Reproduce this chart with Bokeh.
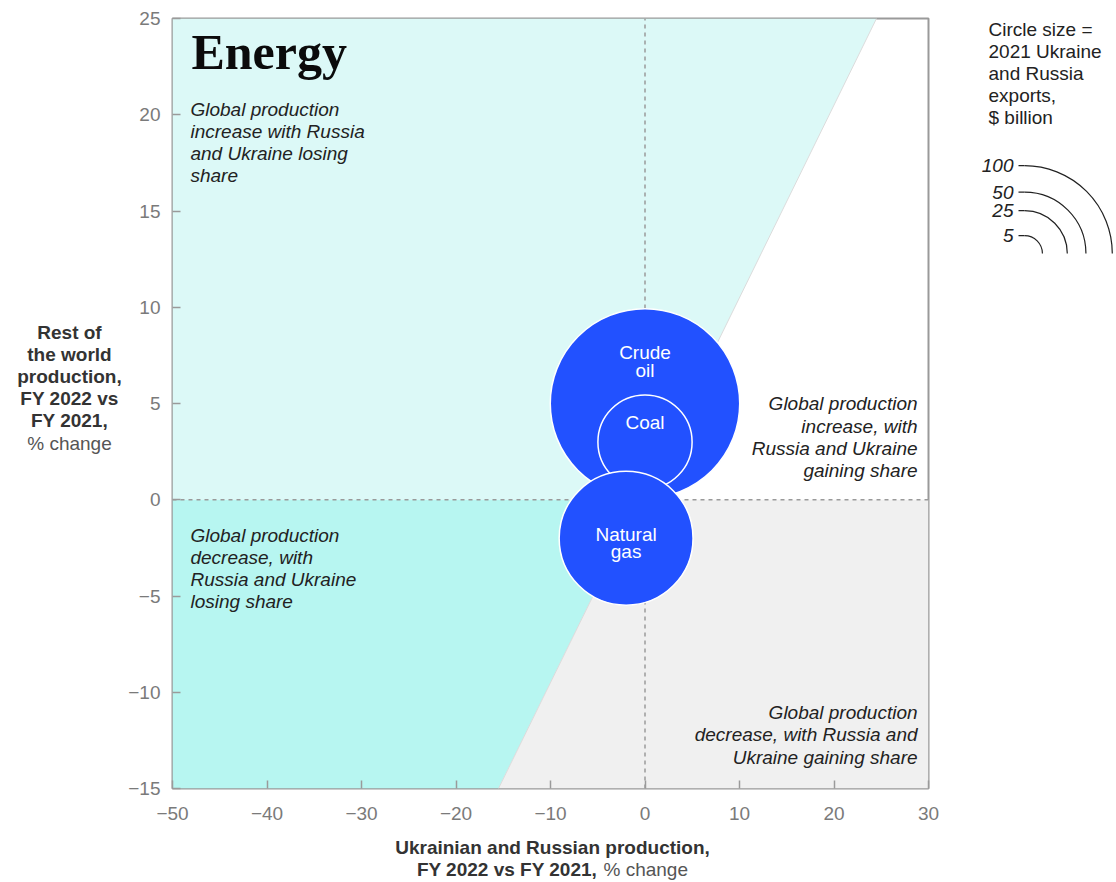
import math
from bokeh.plotting import figure
from bokeh.models import Range1d, FixedTicker, CustomJSTickFormatter, ColumnDataSource
from bokeh.layouts import row, column
from bokeh.embed import file_html
from bokeh.resources import INLINE
from bokeh.core.properties import value

# ---------------- data ----------------
commodities = ["Crude oil", "Coal", "Natural gas"]
circle_labels = ["Crude\noil", "Coal", "Natural\ngas"]
ukr_rus_change = [0, 0, -2]        # x: Ukrainian and Russian production change, %
row_change = [5, 3, -2]            # y: rest of the world production change, %
exports_bn = [116, 30, 59]         # 2021 Ukraine and Russia exports, $ billion

legend_values = [100, 50, 25, 5]
x_ticks = [-50, -40, -30, -20, -10, 0, 10, 20, 30]
y_ticks = [-15, -10, -5, 0, 5, 10, 15, 20, 25]
share_line_x = [-15.5, 24.5]       # boundary: Russia/Ukraine share unchanged
share_line_y = [-15, 25]

# ---------------- styles ----------------
FONT = "Liberation Sans"
BLUE = "#2251ff"
CYAN_LIGHT = "#dcf9f7"
CYAN = "#b7f6f1"
GRAY_BG = "#f0f0f0"
AX_GRAY = "#9a9a9a"
TXT = "#222222"
LH = 1.05

X_MIN, X_MAX = x_ticks[0], x_ticks[-1]
Y_MIN, Y_MAX = y_ticks[0], y_ticks[-1]

TOP_H = 835           # height of the upper row
BOT_H = 882 - TOP_H   # strip for the x axis title
FR_TOP, FR_BOT = 18, 788


def radius_px(v):
    return 9.0 * math.sqrt(v) - 2.2


def bare(fig):
    fig.outline_line_color = None
    fig.grid.visible = False
    fig.background_fill_color = "white"
    fig.border_fill_color = "white"
    return fig


# ---------------- main chart ----------------
p = figure(width=826, height=TOP_H, x_range=Range1d(X_MIN, X_MAX), y_range=Range1d(Y_MIN, Y_MAX),
           output_backend="svg", toolbar_location=None,
           min_border_left=48, min_border_right=22, min_border_top=FR_TOP,
           min_border_bottom=TOP_H - FR_BOT)
p.xgrid.visible = False
p.ygrid.visible = False
p.outline_line_color = AX_GRAY
p.outline_line_width = 2
p.background_fill_color = "white"
p.border_fill_color = "white"

fmt = CustomJSTickFormatter(code="return tick < 0 ? '\u2212' + Math.abs(tick) : String(tick);")
for ax in (p.xaxis[0], p.yaxis[0]):
    ax.axis_line_color = None
    ax.major_tick_in = 8
    ax.major_tick_out = 0
    ax.minor_tick_line_color = None
    ax.major_tick_line_color = AX_GRAY
    ax.major_tick_line_width = 1.5
    ax.major_label_text_font = FONT
    ax.major_label_text_font_size = "19px"
    ax.major_label_text_color = "#7a7a7a"
    ax.formatter = fmt
p.xaxis.ticker = FixedTicker(ticks=x_ticks)
p.yaxis.ticker = FixedTicker(ticks=y_ticks)
p.xaxis.major_label_standoff = 18
p.yaxis.major_label_standoff = 12

# background regions
slope = (share_line_x[1] - share_line_x[0]) / (share_line_y[1] - share_line_y[0])
x_at0 = share_line_x[0] + (0 - share_line_y[0]) * slope
x_top = share_line_x[0] + (Y_MAX - share_line_y[0]) * slope
x_bot = share_line_x[0] + (Y_MIN - share_line_y[0]) * slope

p.patches(
    xs=[[X_MIN, X_MIN, x_top, x_at0],
        [X_MIN, X_MIN, x_at0, x_bot],
        [x_at0, X_MAX, X_MAX, x_bot]],
    ys=[[0, Y_MAX, Y_MAX, 0],
        [Y_MIN, 0, 0, Y_MIN],
        [0, 0, Y_MIN, Y_MIN]],
    fill_color=[CYAN_LIGHT, CYAN, GRAY_BG], line_color=None)
p.line(x=[x_bot, x_top], y=[Y_MIN, Y_MAX], line_color="#dcdcdc", line_width=1)

# dashed zero lines
p.segment(x0=[0, X_MIN], y0=[Y_MIN, 0], x1=[0, X_MAX], y1=[Y_MAX, 0],
          line_color=AX_GRAY, line_width=1.5, line_dash="4 4")

# bubbles
src = ColumnDataSource(dict(
    x=ukr_rus_change, y=row_change, name=commodities, label=circle_labels,
    size=[2 * radius_px(v) for v in exports_bn],
    dy=[-42, -20, 5],
))
p.scatter(x="x", y="y", size="size", source=src, marker="circle",
          fill_color=BLUE, line_color="white", line_width=1.5)
p.text(x="x", y="y", text="label", y_offset="dy", source=src,
       text_align="center", text_baseline="middle", text_color="white",
       text_font=value(FONT), text_font_size="19px", text_line_height=0.82)

# title & region notes
p.text(x=[-48.0], y=[24.71], text=["Energy"], text_font=value("Liberation Serif"),
       text_font_style="bold", text_font_size="50px", text_baseline="top",
       text_color="#0b0b0b")

notes_left = dict(
    x=[-48.1, -48.1], y=[20.84, -1.29],
    text=["Global production\nincrease with Russia\nand Ukraine losing\nshare",
          "Global production\ndecrease, with\nRussia and Ukraine\nlosing share"])
p.text(x="x", y="y", text="text", source=ColumnDataSource(notes_left),
       text_align="left", text_baseline="top", text_color=TXT,
       text_font=value(FONT), text_font_style="italic", text_font_size="19px",
       text_line_height=LH)
notes_right = dict(
    x=[28.84, 28.84], y=[5.52, -10.53],
    text=["Global production\nincrease, with\nRussia and Ukraine\ngaining share",
          "Global production\ndecrease, with Russia and\nUkraine gaining share"])
p.text(x="x", y="y", text="text", source=ColumnDataSource(notes_right),
       text_align="right", text_baseline="top", text_color=TXT,
       text_font=value(FONT), text_font_style="italic", text_font_size="19px",
       text_line_height=LH)

# ---------------- y axis title (left strip) ----------------
left = bare(figure(width=124, height=TOP_H, x_range=Range1d(0, 124), y_range=Range1d(FR_BOT, FR_TOP),
                   output_backend="svg", toolbar_location=None,
                   min_border_left=0, min_border_right=0, min_border_top=FR_TOP,
                   min_border_bottom=TOP_H - FR_BOT,
                   x_axis_location=None, y_axis_location=None))
left.text(x=[69], y=[321], text=["Rest of\nthe world\nproduction,\nFY 2022 vs\nFY 2021,"],
          text_align="center", text_baseline="top", text_color="#333333",
          text_font=value(FONT), text_font_style="bold", text_font_size="19px",
          text_line_height=LH)
left.text(x=[69], y=[432], text=["% change"],
          text_align="center", text_baseline="top", text_color="#555555",
          text_font=value(FONT), text_font_size="19px")

# ---------------- size legend (right strip) ----------------
lg = bare(figure(width=166, height=TOP_H, x_range=Range1d(950, 1116), y_range=Range1d(FR_BOT, FR_TOP),
                 output_backend="svg", toolbar_location=None,
                 min_border_left=0, min_border_right=0, min_border_top=FR_TOP,
                 min_border_bottom=TOP_H - FR_BOT,
                 x_axis_location=None, y_axis_location=None))
lg.text(x=[988], y=[18], text=["Circle size =\n2021 Ukraine\nand Russia\nexports,\n$ billion"],
        text_baseline="top", text_align="left", text_color=TXT,
        text_font=value(FONT), text_font_size="19px", text_line_height=LH)

cx, cy = 1024, 253
radii = [radius_px(v) for v in legend_values]
n = len(legend_values)
lsrc = ColumnDataSource(dict(
    x=[cx] * n, y=[cy] * n, r=radii,
    ytop=[cy - r for r in radii], lx=[1018] * n,
    tx=[1013] * n, txt=[str(v) for v in legend_values]))
lg.arc(x="x", y="y", radius="r", radius_units="screen", start_angle=0, end_angle=math.pi / 2,
       direction="anticlock", line_color=TXT, line_width=1.2, source=lsrc)
lg.segment(x0="lx", y0="ytop", x1="x", y1="ytop", line_color=TXT, line_width=1.2, source=lsrc)
lg.text(x="tx", y="ytop", text="txt", source=lsrc, text_align="right", text_baseline="middle",
        text_color=TXT, text_font=value(FONT), text_font_style="italic", text_font_size="19px")

# ---------------- x axis title (bottom strip) ----------------
bot = bare(figure(width=1116, height=BOT_H, x_range=Range1d(0, 1116), y_range=Range1d(882, TOP_H),
                  output_backend="svg", toolbar_location=None, min_border=0,
                  x_axis_location=None, y_axis_location=None))
bot.text(x=[552], y=[836], text=["Ukrainian and Russian production,"],
         text_align="center", text_baseline="top", text_color="#333333",
         text_font=value(FONT), text_font_style="bold", text_font_size="19px")
bot.text(x=[597], y=[858], text=["FY 2022 vs FY 2021,"],
         text_align="right", text_baseline="top", text_color="#333333",
         text_font=value(FONT), text_font_style="bold", text_font_size="19px")
bot.text(x=[603], y=[858], text=["% change"],
         text_align="left", text_baseline="top", text_color="#555555",
         text_font=value(FONT), text_font_size="19px")

layout = column(row(left, p, lg), bot)
open("out.html", "w").write(file_html(layout, INLINE))
